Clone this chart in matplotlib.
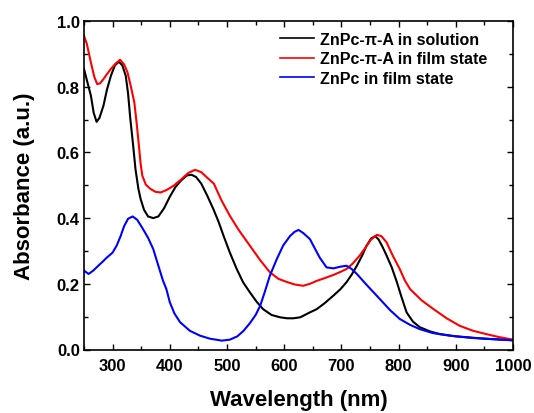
import matplotlib
matplotlib.use("Agg")
import matplotlib.pyplot as plt
from matplotlib.ticker import MultipleLocator

plt.rcParams['font.family'] = ['Liberation Sans', 'DejaVu Sans']
plt.rcParams['font.weight'] = 'bold'

# ZnPc-pi-A in solution (black)
wl_sol = [250, 255, 262, 267, 272, 277, 284, 290, 297, 304, 311, 317, 323, 327, 331, 336, 340, 345,
          349, 355, 362, 371, 380, 390, 400, 410, 420, 430, 438, 446, 455, 465, 476, 485, 494, 505,
          517, 528, 540, 552, 563, 578, 593, 605, 616, 628, 645, 657, 670, 686, 698, 709, 718, 727,
          736, 744, 752, 759, 765, 772, 779, 788, 797, 805, 814, 825, 837, 855, 872, 900, 950, 1000]
abs_sol = [0.854, 0.82, 0.773, 0.72, 0.693, 0.705, 0.742, 0.79, 0.833, 0.865, 0.876, 0.865, 0.833,
           0.78, 0.702, 0.62, 0.549, 0.49, 0.458, 0.425, 0.405, 0.40, 0.405, 0.43, 0.465, 0.495,
           0.515, 0.53, 0.532, 0.525, 0.505, 0.47, 0.428, 0.39, 0.346, 0.295, 0.245, 0.205, 0.174,
           0.145, 0.123, 0.105, 0.098, 0.095, 0.095, 0.098, 0.113, 0.123, 0.14, 0.164, 0.183, 0.205,
           0.228, 0.255, 0.285, 0.316, 0.338, 0.345, 0.335, 0.312, 0.286, 0.25, 0.205, 0.16, 0.113,
           0.085, 0.068, 0.055, 0.047, 0.04, 0.033, 0.028]

# ZnPc-pi-A in film state (red)
wl_film = [250, 255, 262, 268, 273, 278, 284, 290, 297, 305, 313, 320, 326, 332, 338, 342, 346, 349,
           352, 358, 366, 375, 384, 395, 407, 420, 432, 444, 455, 466, 477, 490, 505, 520, 540, 558,
           575, 590, 604, 618, 633, 645, 657, 672, 686, 698, 709, 720, 732, 742, 752, 762, 770, 779,
           790, 802, 811, 820, 840, 861, 884, 907, 930, 953, 975, 1000]
abs_film = [0.955, 0.93, 0.874, 0.83, 0.808, 0.81, 0.823, 0.838, 0.854, 0.87, 0.882, 0.868, 0.844,
            0.80, 0.752, 0.69, 0.62, 0.565, 0.529, 0.502, 0.489, 0.48, 0.478, 0.486, 0.499, 0.518,
            0.537, 0.547, 0.54, 0.522, 0.505, 0.455, 0.407, 0.365, 0.316, 0.272, 0.235, 0.215,
            0.206, 0.198, 0.194, 0.2, 0.209, 0.218, 0.227, 0.236, 0.245, 0.262, 0.286, 0.31, 0.335,
            0.349, 0.345, 0.326, 0.285, 0.245, 0.21, 0.184, 0.15, 0.123, 0.095, 0.072, 0.057, 0.047,
            0.038, 0.03]

# ZnPc in film state (blue)
wl_znpc = [250, 254, 258, 266, 275, 283, 290, 300, 307, 314, 320, 327, 335, 343, 352, 362, 371, 380,
           388, 394, 400, 408, 418, 435, 453, 470, 491, 505, 518, 529, 540, 550, 558, 566, 575, 587,
           598, 610, 618, 625, 633, 645, 651, 662, 674, 686, 698, 709, 718, 727, 745, 767, 785, 802,
           820, 837, 860, 890, 930, 1000]
abs_znpc = [0.24, 0.235, 0.23, 0.24, 0.255, 0.268, 0.28, 0.295, 0.316, 0.345, 0.375, 0.398, 0.405,
            0.395, 0.37, 0.34, 0.306, 0.255, 0.21, 0.184, 0.144, 0.11, 0.083, 0.057, 0.042, 0.033,
            0.027, 0.03, 0.04, 0.057, 0.08, 0.105, 0.133, 0.175, 0.225, 0.275, 0.316, 0.345, 0.358,
            0.364, 0.355, 0.336, 0.316, 0.28, 0.25, 0.247, 0.252, 0.255, 0.245, 0.23, 0.195, 0.154,
            0.12, 0.093, 0.075, 0.062, 0.05, 0.042, 0.035, 0.028]

labels = ['ZnPc-π-A in solution', 'ZnPc-π-A in film state', 'ZnPc in film state']

fig = plt.figure(figsize=(5.34, 4.14), dpi=100)
ax = fig.add_axes([84/534, 1-350.5/414, (513-84)/534, (350.5-22)/414])

ax.plot(wl_sol, abs_sol, color='black', lw=1.5, label=labels[0])
ax.plot(wl_film, abs_film, color='red', lw=1.5, label=labels[1])
ax.plot(wl_znpc, abs_znpc, color='blue', lw=1.5, label=labels[2])

ax.set_xlim(250, 1000)
ax.set_ylim(0.0, 1.0)
ax.xaxis.set_major_locator(MultipleLocator(100))
ax.xaxis.set_minor_locator(MultipleLocator(50))
ax.yaxis.set_major_locator(MultipleLocator(0.2))
ax.yaxis.set_minor_locator(MultipleLocator(0.1))
ax.tick_params(which='both', direction='in', top=True, right=True, width=1.0)
ax.tick_params(which='major', length=4.5, labelsize=12)
ax.tick_params(axis='x', which='major', pad=6)
ax.tick_params(axis='y', which='major', pad=3)
ax.tick_params(which='minor', length=3)
ax.set_xticks([300, 400, 500, 600, 700, 800, 900, 1000])
for lab in ax.get_xticklabels() + ax.get_yticklabels():
    lab.set_fontweight('bold')
for s in ax.spines.values():
    s.set_linewidth(1.2)

ax.set_xlabel('Wavelength (nm)', fontsize=16, fontweight='bold', labelpad=11.5)
ax.set_ylabel('Absorbance (a.u.)', fontsize=16, fontweight='bold', labelpad=16)

leg = ax.legend(loc='upper left', bbox_to_anchor=(280/534, 1-33/414), bbox_transform=fig.transFigure,
                frameon=False, fontsize=11.5, handlelength=2.1, handletextpad=0.4,
                labelspacing=0.28, borderpad=0.0, borderaxespad=0.0)
for t in leg.get_texts():
    t.set_fontweight('bold')
for l in leg.get_lines():
    l.set_linewidth(1.2)

fig.savefig('out.png', dpi=100)
